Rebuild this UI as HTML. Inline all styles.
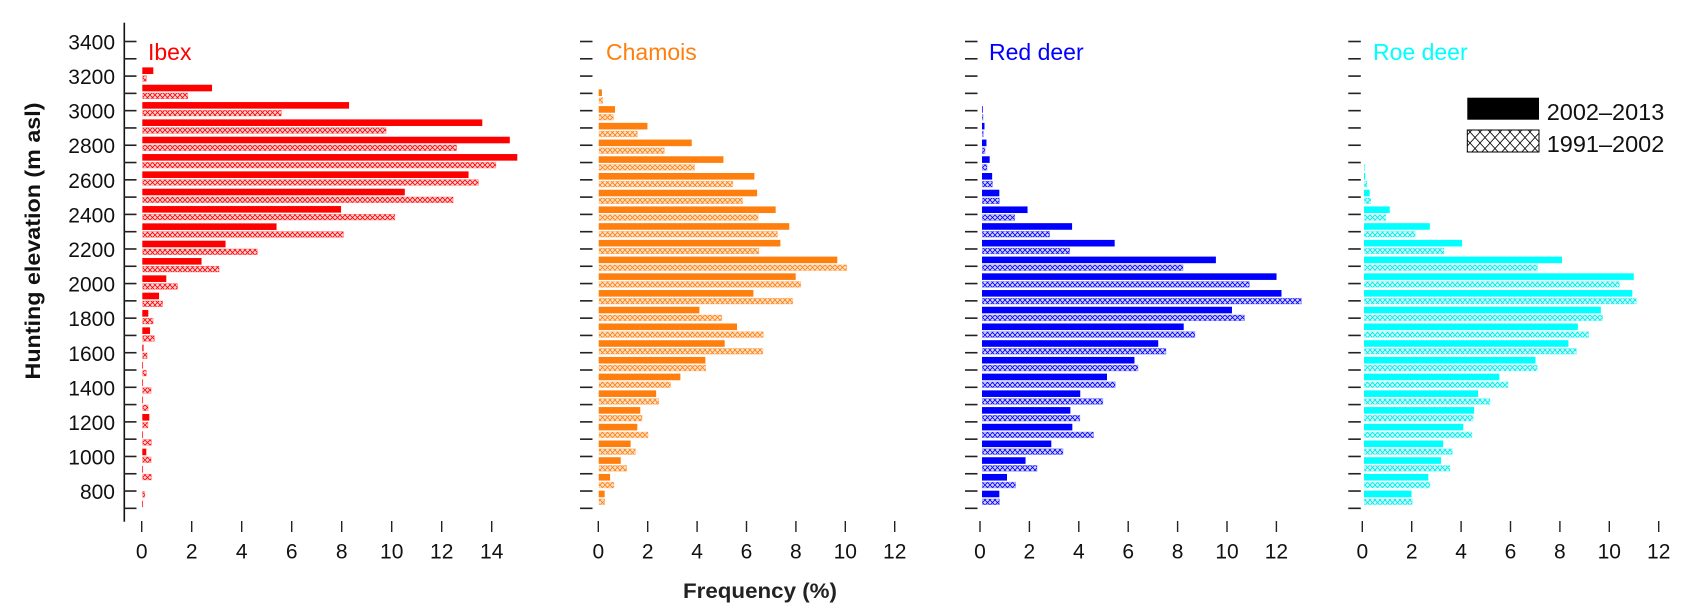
<!DOCTYPE html>
<html><head><meta charset="utf-8"><style>
html,body{margin:0;padding:0;background:#fff;}
svg{display:block;}
text{font-family:"Liberation Sans",Arial,sans-serif;}
</style></head><body>
<svg id="s" width="1683" height="608" viewBox="0 0 1683 608" xmlns="http://www.w3.org/2000/svg">
<defs>
<pattern id="hr" width="5" height="5" patternUnits="userSpaceOnUse"><rect width="5" height="5" fill="#ffd6d6"/><path d="M0,0L5,5M5,0L0,5" stroke="#ff0000" stroke-width="0.8"/></pattern>
<pattern id="ho" width="5" height="5" patternUnits="userSpaceOnUse"><rect width="5" height="5" fill="#ffe3c8"/><path d="M0,0L5,5M5,0L0,5" stroke="#ff7f0e" stroke-width="0.8"/></pattern>
<pattern id="hb" width="5" height="5" patternUnits="userSpaceOnUse"><rect width="5" height="5" fill="#d6d6ff"/><path d="M0,0L5,5M5,0L0,5" stroke="#0000ff" stroke-width="0.8"/></pattern>
<pattern id="hc" width="5" height="5" patternUnits="userSpaceOnUse"><rect width="5" height="5" fill="#ccffff"/><path d="M0,0L5,5M5,0L0,5" stroke="#00e5e5" stroke-width="0.8"/></pattern>
<pattern id="hk" width="10" height="11" patternUnits="userSpaceOnUse"><path d="M0,0L10,11M10,0L0,11" stroke="#000" stroke-width="0.8"/></pattern>
</defs>
<g id="g"></g>
<!-- y labels -->
<g font-size="21" fill="#111" text-anchor="end">
<text x="115" y="49.5">3400</text>
<text x="115" y="84.1">3200</text>
<text x="115" y="118.7">3000</text>
<text x="115" y="153.2">2800</text>
<text x="115" y="187.8">2600</text>
<text x="115" y="222.4">2400</text>
<text x="115" y="257.0">2200</text>
<text x="115" y="291.6">2000</text>
<text x="115" y="326.2">1800</text>
<text x="115" y="360.8">1600</text>
<text x="115" y="395.3">1400</text>
<text x="115" y="429.9">1200</text>
<text x="115" y="464.5">1000</text>
<text x="115" y="499.1">800</text>
</g>
<g font-size="21" fill="#111" text-anchor="middle">
<text x="141.7" y="558.5">0</text><text x="191.7" y="558.5">2</text><text x="241.7" y="558.5">4</text><text x="291.7" y="558.5">6</text><text x="341.7" y="558.5">8</text><text x="391.7" y="558.5">10</text><text x="441.7" y="558.5">12</text><text x="491.7" y="558.5">14</text>
<text x="598.3" y="558.5">0</text><text x="647.7" y="558.5">2</text><text x="697.1" y="558.5">4</text><text x="746.5" y="558.5">6</text><text x="795.9" y="558.5">8</text><text x="845.3" y="558.5">10</text><text x="894.7" y="558.5">12</text>
<text x="980" y="558.5">0</text><text x="1029.4" y="558.5">2</text><text x="1078.8" y="558.5">4</text><text x="1128.2" y="558.5">6</text><text x="1177.6" y="558.5">8</text><text x="1227" y="558.5">10</text><text x="1276.4" y="558.5">12</text>
<text x="1362.3" y="558.5">0</text><text x="1411.7" y="558.5">2</text><text x="1461.1" y="558.5">4</text><text x="1510.5" y="558.5">6</text><text x="1559.9" y="558.5">8</text><text x="1609.3" y="558.5">10</text><text x="1658.7" y="558.5">12</text>
</g>
<g font-size="23">
<text x="148" y="60" fill="#ff0000">Ibex</text>
<text x="606" y="60" fill="#ff7f0e">Chamois</text>
<text x="989" y="60" fill="#0000ff">Red deer</text>
<text x="1373" y="60" fill="#00ffff">Roe deer</text>
</g>
<text transform="translate(40,241) rotate(-90)" text-anchor="middle" font-size="21" font-weight="bold" fill="#111" textLength="277" lengthAdjust="spacingAndGlyphs">Hunting elevation (m asl)</text>
<text x="760" y="598" text-anchor="middle" font-size="21" font-weight="bold" fill="#222" textLength="154" lengthAdjust="spacingAndGlyphs">Frequency (%)</text>
<rect x="1467.3" y="97.7" width="71.7" height="22" fill="#000"/>
<rect x="1467.3" y="130" width="71.7" height="22" fill="url(#hk)" stroke="#000" stroke-width="1"/>
<g font-size="23.5" fill="#111">
<text x="1546.7" y="120">2002–2013</text>
<text x="1546.7" y="152">1991–2002</text>
</g>
</svg>
<script>
var g=document.getElementById('g'),NS='http://www.w3.org/2000/svg';
function r(x,y,w,h,a){var e=document.createElementNS(NS,'rect');e.setAttribute('x',x);e.setAttribute('y',y);e.setAttribute('width',Math.max(w,0.6));e.setAttribute('height',h);for(var k in a)e.setAttribute(k,a[k]);g.appendChild(e);}
function ty(k){return 41.5+17.29*k;}
// y axis for ibex
r(123.5,22.7,1.6,499,{fill:'#111'});
var tx=[124,580,965,1348.3];
for(var p=0;p<4;p++){for(var k=0;k<=27;k++){r(tx[p],ty(k)-0.8,12.5,1.6,{fill:'#222'});}}
// x ticks
function xt(z,s,n){for(var i=0;i<=n;i+=2){r(z+s*i-0.7,521,1.4,11,{fill:'#222'});}}
xt(141.7,25,14);xt(598.3,24.7,12);xt(980,24.7,12);xt(1362.3,24.7,12);
function bars(z,s,c0,dc,n0,S,H,col,pat){for(var i=0;i<S.length;i++){var c=c0+dc*(n0+i);
if(S[i]>0)r(z,c-3.3,S[i]*s,6.6,{fill:col});
if(H[i]>0)r(z+0.4,c+5,H[i]*s-0.4,5.6,{fill:'url(#'+pat+')',stroke:col,'stroke-opacity':0.35,'stroke-width':0.8});}}
bars(142.3,25,70.7,17.33,0,
[0.44,2.79,8.27,13.6,14.7,15.0,13.05,10.5,7.95,5.37,3.33,2.37,0.96,0.67,0.24,0.31,0.05,0.03,0.03,0.03,0.28,0.03,0.16,0.03,0,0.03],
[0.16,1.82,5.56,9.75,12.57,14.14,13.44,12.43,10.1,8.04,4.6,3.07,1.41,0.81,0.43,0.48,0.19,0.16,0.35,0.23,0.22,0.36,0.35,0.36,0.1,0],
'#ff0000','hr');
bars(598.7,24.75,92.7,16.72,0,
[0.13,0.66,1.97,3.76,5.04,6.29,6.4,7.15,7.7,7.34,9.64,7.96,6.25,4.07,5.59,5.09,4.31,3.3,2.32,1.68,1.56,1.29,0.89,0.46,0.24],
[0.16,0.59,1.56,2.65,3.87,5.42,5.81,6.44,7.22,6.47,10.02,8.16,7.84,4.97,6.65,6.63,4.32,2.9,2.42,1.75,1.99,1.48,1.13,0.61,0.24],
'#ff7f0e','ho');
bars(982,24.75,92.7,16.72,1,
[0.03,0.1,0.18,0.31,0.41,0.7,1.84,3.64,5.36,9.45,11.9,12.1,10.1,8.15,7.12,6.16,5.05,3.97,3.57,3.65,2.8,1.76,1.01,0.7],
[0.03,0.05,0.12,0.2,0.42,0.7,1.32,2.73,3.54,8.12,10.8,12.9,10.6,8.6,7.43,6.3,5.38,4.88,3.95,4.5,3.27,2.22,1.35,0.7],
'#0000ff','hb');
bars(1364,24.75,92.7,16.72,4,
[0,0.05,0.23,1.04,2.66,3.96,8.0,10.9,10.84,9.57,8.64,8.26,6.93,5.47,4.61,4.45,4.01,3.2,3.11,2.6,1.92],
[0.04,0.12,0.27,0.88,2.07,3.23,7.01,10.32,11.0,9.64,9.07,8.58,7.0,5.82,5.09,4.41,4.36,3.57,3.47,2.66,1.95],
'#00ffff','hc');
</script>
</body></html>
